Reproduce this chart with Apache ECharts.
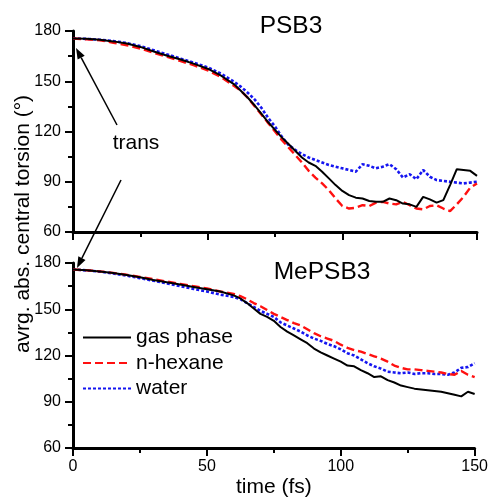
<!DOCTYPE html>
<html>
<head>
<meta charset="utf-8">
<script src="https://cdn.jsdelivr.net/npm/echarts@6/dist/echarts.min.js"></script>
<style>html,body{margin:0;padding:0;background:#fff;}#c{width:491px;height:499px;}</style>
</head>
<body>
<div id="c"></div>
<script>
const times = [0,5,10,15,20,25,30,35,40,45,50,55,60,62.5,65,67.5,70,72.5,75,77.5,80,82.5,85,87.5,90,92.5,95,97.5,100,102.5,105,107.5,110,112.5,115,117.5,120,122.5,125,127.5,130,132.5,135,137.5,140,142.5,145,147.5,150];

const psb3Gas = [175.5,175.3,174.8,173.8,172.5,170.5,167.8,165.2,163,160.4,157.5,153.3,148,144,140,135.5,130.5,125.5,121,116.5,112.5,108.5,104.5,101.5,99.5,96,92,88,84.5,82,80.5,80,78.5,78,78,80,79,77,76.5,75,81,79.5,77.5,79,88,97.5,97,96.5,93.5];
const psb3Hexane = [175.5,175,174.5,173,171.5,169.5,167,164.5,162,159.5,156.5,152.5,147,144,140,135,130,125,120,115,110.5,106,101.5,96.5,92.5,89,85,80,75.5,74,74.5,76,75.5,77.5,78,77,76.5,78,76,74,73.5,75.5,76,74,72.5,76.5,81,86.5,89];
const psb3Water = [175.5,175.3,174.8,174,172.8,171,168.5,166,163.5,161,158.3,154.5,149.5,146.5,143,139,134,128,123,117,112,109,106.5,104.5,103,101.5,100,99,98,97,96,100.5,99.5,98,99,100.5,97.5,92.5,94.5,91.5,97,93,91,90.5,90,89.5,89,89.5,90];

const mepsb3Gas = [175.8,175.3,174.5,173.5,172.2,170.8,169,167.5,166,164.5,163,161.5,159,157,154,150.5,147,145,142.5,138.5,135.5,133,130.5,128,124.5,122,120,118,116,113.5,113,110.5,108.5,106,106.5,104,102.5,100.5,99.5,98.5,98,97.5,97,96.5,95.5,94.5,93.5,96.5,95];
const mepsb3Hexane = [175.8,175.3,174.6,173.6,172.4,171,169.5,168,166.5,165,163.5,161.5,160,158.5,156.5,154,152,149.5,147,145,143,141,139.5,137,134.5,132.5,131,129.5,127,125,123.5,122.5,121,119.5,118,116,113.5,112,111,111,110.5,110,109.5,109,108,107.5,110,107.5,106];
const mepsb3Water = [175.8,175.2,174.4,173.2,171.8,170.2,168.5,166.8,165,163.2,161.5,159.5,158,156.5,154,151.5,149,147,145,141.5,139.5,137.5,135.5,133,131,129.5,127.5,126,124,121.5,120,117.5,115,113,111.5,109.5,109,108.5,109,108,108.5,108.5,108,108,107.5,109,112,112.5,115];

const seriesNames = ['gas phase','n-hexane','water'];
const panelTitles = ['PSB3','MePSB3'];
const xTicks = [0,50,100,150];
const yTicks = [60,90,120,150,180];

const FONT = 'Liberation Sans, Arial, sans-serif';
const styles = [
  {color:'#000000', type:'solid', width:2},
  {color:'#ff1010', type:[8,4], width:2.4},
  {color:'#1515f0', type:[3,2], width:2.6}
];

function pairs(vals){ return times.map((t,i)=>[t, vals[i]]); }

const panels = [[psb3Gas, psb3Hexane, psb3Water],[mepsb3Gas, mepsb3Hexane, mepsb3Water]];

const series = [];
panels.forEach((p, gi) => {
  p.forEach((vals, si) => {
    series.push({
      name: seriesNames[si], type:'line', xAxisIndex: gi, yAxisIndex: gi,
      data: pairs(vals), symbol:'none', smooth:false, z: 3 - si + 2,
      lineStyle: {color: styles[si].color, type: styles[si].type, width: styles[si].width},
      itemStyle: {color: styles[si].color}
    });
  });
});

function xAxis(gi, showLabels){
  return {
    type:'value', gridIndex: gi, min: xTicks[0], max: xTicks[xTicks.length-1], interval: 50,
    axisLine:{show:true, onZero:false, lineStyle:{color:'#000', width:3}},
    axisTick:{show:true, length:8, lineStyle:{color:'#000', width:2}},
    minorTick:{show:true, splitNumber:2, length:5, lineStyle:{color:'#000', width:2}},
    splitLine:{show:false},
    axisLabel:{show: showLabels, color:'#000', fontSize:16, fontFamily:FONT, margin:11},
    name: showLabels ? 'time (fs)' : '', nameLocation:'middle', nameGap: 29,
    nameTextStyle:{color:'#000', fontSize:21, fontFamily:FONT}
  };
}
function yAxis(gi){
  return {
    type:'value', gridIndex: gi, min: yTicks[0], max: yTicks[yTicks.length-1], interval: 30,
    axisLine:{show:true, onZero:false, lineStyle:{color:'#000', width:3}},
    axisTick:{show:true, length:8, lineStyle:{color:'#000', width:2}},
    minorTick:{show:true, splitNumber:2, length:5, lineStyle:{color:'#000', width:2}},
    splitLine:{show:false},
    axisLabel:{color:'#000', fontSize:16, fontFamily:FONT, margin:12}
  };
}

function arrow(x1,y1,x2,y2){
  const ang = Math.atan2(y2-y1, x2-x1);
  const L = 11, W = 4;
  const bx = x2 - L*Math.cos(ang), by = y2 - L*Math.sin(ang);
  const px = -Math.sin(ang), py = Math.cos(ang);
  return [
    {type:'line', shape:{x1:x1, y1:y1, x2:bx, y2:by}, style:{stroke:'#000', lineWidth:1.5}, z:10},
    {type:'polygon', shape:{points:[[x2,y2],[bx+px*W,by+py*W],[bx-px*W,by-py*W]]}, style:{fill:'#000'}, z:10}
  ];
}

const chart = echarts.init(document.getElementById('c'), null, {renderer:'canvas'});
chart.setOption({
  animation:false,
  backgroundColor:'#fff',
  grid:[
    {left:73, top:31, width:404, height:201},
    {left:73, top:263, width:404, height:190}
  ],
  xAxis:[xAxis(0,false), xAxis(1,true)],
  yAxis:[yAxis(0), yAxis(1)],
  legend:{
    data: seriesNames, orient:'vertical', left:82, top:327, padding:0,
    itemWidth:48, itemHeight:14, itemGap:4.5,
    itemStyle:{opacity:0},
    textStyle:{color:'#000', fontSize:21, fontFamily:FONT, lineHeight:20}
  },
  series: series,
  graphic: [
    {type:'text', x:291, y:26, style:{text:panelTitles[0], fill:'#000', font:'24.5px '+FONT, textAlign:'center', textVerticalAlign:'middle'}},
    {type:'text', x:322, y:272, style:{text:panelTitles[1], fill:'#000', font:'24.5px '+FONT, textAlign:'center', textVerticalAlign:'middle'}},
    {type:'text', x:136, y:143, style:{text:'trans', fill:'#000', font:'21px '+FONT, textAlign:'center', textVerticalAlign:'middle'}},
    {type:'text', x:23, y:224, rotation:Math.PI/2, style:{text:'avrg. abs. central torsion (°)', fill:'#000', font:'21px '+FONT, textAlign:'center', textVerticalAlign:'middle'}}
  ].concat(arrow(117,125,76,48), arrow(121,180,77,268))
});
</script>
</body>
</html>
